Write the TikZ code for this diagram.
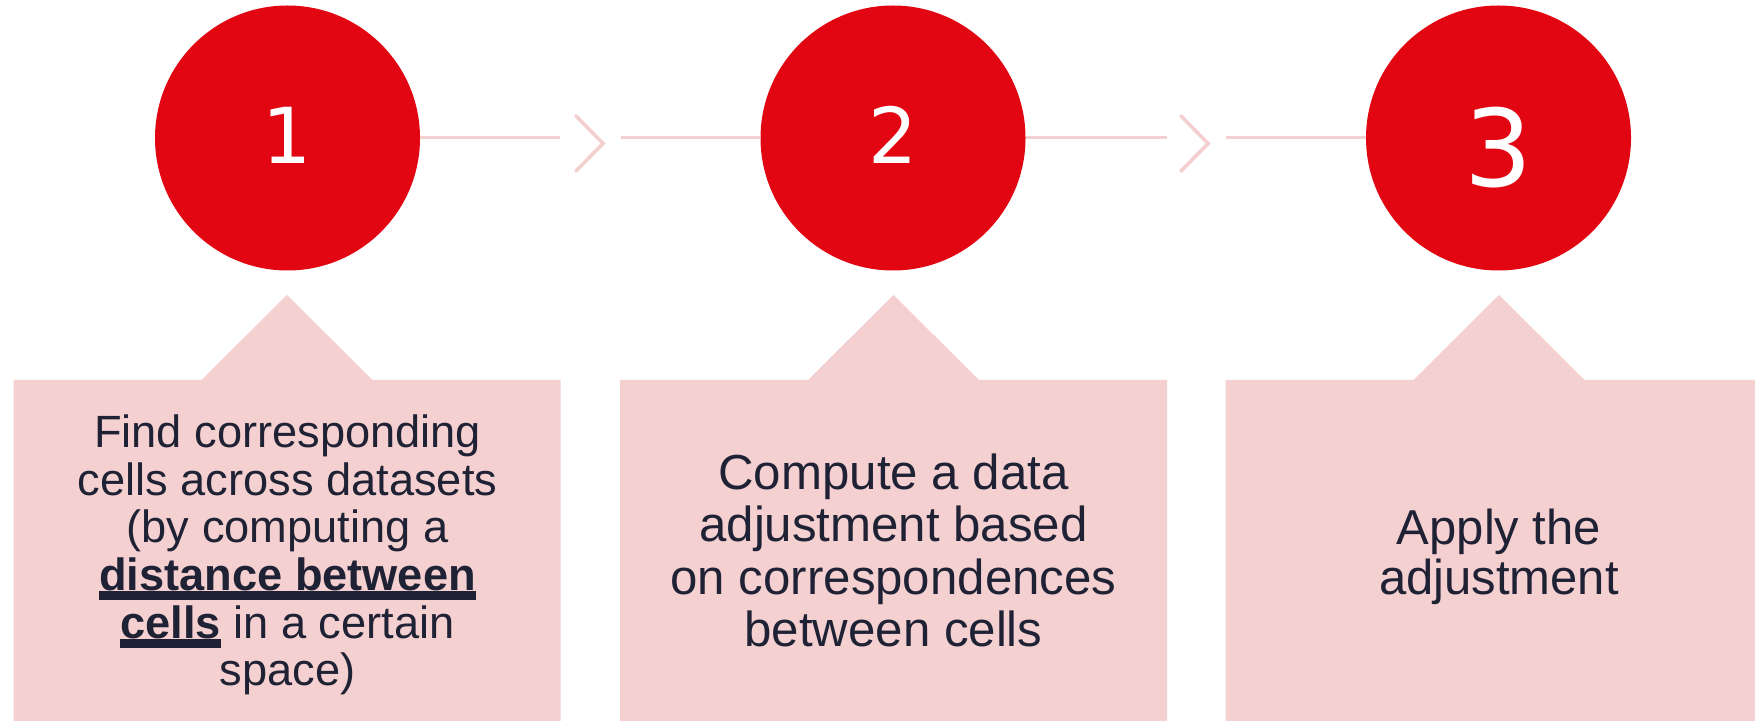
\documentclass[tikz,border=0pt]{standalone}
\usepackage{fontspec}
\setmainfont{Liberation Sans}
\newfontfamily\digitfont{DejaVu Sans}
\definecolor{stepred}{HTML}{E20613}
\definecolor{panelpink}{HTML}{F4D0D0}
\definecolor{linkpink}{HTML}{F3CFCF}
\definecolor{inkblue}{HTML}{1F2235}
% heavy underline set just below the baseline
\newcommand\thickul[1]{\setbox0=\hbox{#1}\rlap{\vrule height -0.5pt depth 5pt width \wd0}\box0\relax}
\begin{document}
\begin{tikzpicture}[x=0.5pt,y=-0.5pt,
  stepdisc/.style={circle, fill=stepred, minimum size=132.5pt, inner sep=0pt,
    text=white, text height=26pt, text depth=0pt,
    font=\digitfont\fontsize{38.6}{40}\selectfont},
  bigdigit/.style={text height=49pt, text depth=0pt,
    font=\digitfont\fontsize{53.5}{55}\selectfont},
  panel/.style={fill=panelpink},
  paneltext/.style={align=center, text=inkblue, inner sep=0pt},
  link/.style={draw=linkpink, line width=1.5pt},
  chevron/.style={draw=linkpink, line width=1.8pt, line cap=round, line join=miter}
]
\clip (0,0) rectangle (1755,721);
\fill[white] (0,0) rectangle (1755,721);

% text panels with a pointer towards their step
\foreach \cx in {287,893.5,1499}{
  \fill[panel] (\cx-273.5,380) -- (\cx-85.5,380) -- (\cx,295) -- (\cx+85.5,380)
    -- (\cx+273.5,380) -- (\cx+273.5,740) -- (\cx-273.5,740) -- cycle;
}

% numbered steps
\node[stepdisc] (s1) at (287.5,138) {1};
\node[stepdisc] (s2) at (893,138) {2};
\node[stepdisc, bigdigit] (s3) at (1498.5,138) {3};

% links between the steps
\coordinate (a1) at (560,138);
\coordinate (b1) at (621,138);
\coordinate (a2) at (1167,138);
\coordinate (b2) at (1226,138);
\draw[link] (s1.east) -- (a1);
\draw[link] (b1) -- (s2.west);
\draw[link] (s2.east) -- (a2);
\draw[link] (b2) -- (s3.west);
\draw[chevron] (576,116) -- (603,143.5) -- (576,171);
\draw[chevron] (1181,116) -- (1208,143.5) -- (1181,171);

% panel texts
\node[paneltext, font=\fontsize{22.6}{23.8}\selectfont] (t1) at (287.5,555)
  {Find corresponding\\cells across datasets\\(by computing a\\\thickul{\bfseries distance between}\\\thickul{\bfseries cells} in a certain\\space)};
\node[paneltext, font=\fontsize{24.6}{26.15}\selectfont] (t2) at (893.5,550.5)
  {Compute a data\\adjustment based\\on correspondences\\between cells};
\node[paneltext, font=\fontsize{24.5}{25}\selectfont] (t3) at (1499,556.5)
  {Apply the\\adjustment};
\end{tikzpicture}
\end{document}
